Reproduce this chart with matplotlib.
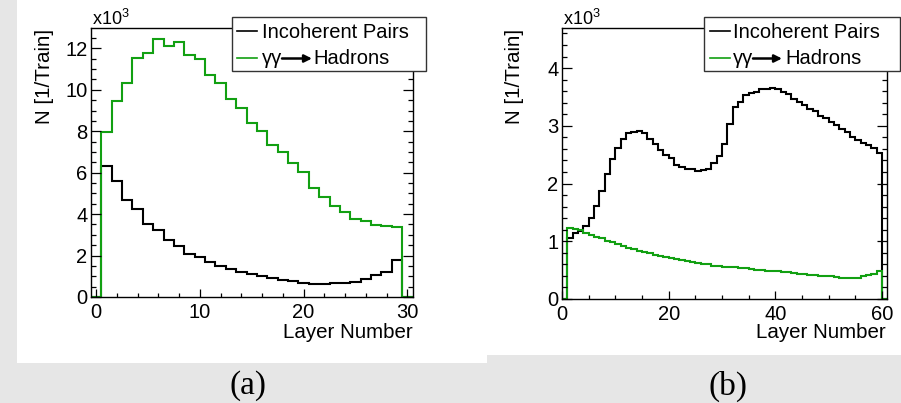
import numpy as np
import matplotlib
matplotlib.use("Agg")
import matplotlib.pyplot as plt
from matplotlib.patches import Rectangle, FancyArrowPatch
from matplotlib.lines import Line2D
from matplotlib.ticker import MultipleLocator

plt.rcParams['font.family'] = ['Liberation Sans', 'DejaVu Sans']
plt.rcParams['mathtext.fontset'] = 'custom'
plt.rcParams['mathtext.rm'] = 'Liberation Sans'
plt.rcParams['mathtext.it'] = 'Liberation Sans:italic'

W, H = 901, 403

# ---- panel (a): hits per layer, 30-layer detector (units of 10^3 / train)
layers_a = np.arange(1, 30)
pairs_a = [6.30, 5.62, 4.69, 4.24, 3.50, 3.21, 2.76, 2.46, 2.09, 1.93,
           1.67, 1.49, 1.35, 1.22, 1.09, 1.00, 0.92, 0.84, 0.77, 0.69,
           0.64, 0.61, 0.66, 0.67, 0.72, 0.87, 1.06, 1.22, 1.80]
hadrons_a = [7.95, 9.45, 10.31, 11.53, 11.76, 12.43, 12.11, 12.29, 11.68, 11.47,
             10.71, 10.35, 9.57, 9.12, 8.40, 8.00, 7.36, 6.99, 6.46, 6.02,
             5.24, 4.82, 4.37, 4.10, 3.78, 3.66, 3.49, 3.41, 3.37]

# ---- panel (b): hits per layer, 60-layer detector (units of 10^3 / train)
layers_b = np.arange(1, 60)
pairs_b = [1.05, 1.14, 1.17, 1.27, 1.41, 1.61, 1.87, 2.16, 2.42, 2.62,
           2.77, 2.87, 2.89, 2.91, 2.88, 2.78, 2.69, 2.58, 2.50, 2.44,
           2.33, 2.29, 2.26, 2.25, 2.22, 2.24, 2.26, 2.36, 2.48, 2.69,
           3.03, 3.32, 3.41, 3.54, 3.57, 3.59, 3.63, 3.64, 3.66, 3.63,
           3.58, 3.55, 3.46, 3.42, 3.36, 3.30, 3.25, 3.17, 3.13, 3.07,
           3.02, 2.95, 2.90, 2.81, 2.76, 2.71, 2.67, 2.61, 2.53]
hadrons_b = [1.23, 1.22, 1.19, 1.15, 1.11, 1.08, 1.05, 1.01, 0.98, 0.95,
             0.92, 0.89, 0.86, 0.83, 0.81, 0.79, 0.77, 0.75, 0.73, 0.71,
             0.69, 0.67, 0.66, 0.64, 0.63, 0.61, 0.60, 0.58, 0.57, 0.56,
             0.56, 0.55, 0.54, 0.53, 0.52, 0.51, 0.50, 0.49, 0.49, 0.48,
             0.47, 0.46, 0.45, 0.44, 0.43, 0.42, 0.41, 0.40, 0.39, 0.39,
             0.38, 0.37, 0.37, 0.36, 0.37, 0.39, 0.41, 0.44, 0.48]

label_pairs = "Incoherent Pairs"
label_hadrons = "Hadrons"
GREEN = "#12a012"
BG = "#e6e6e6"
TICK_FS = 14.5
TITLE_FS = 14.8
LEG_FS = 14.5


def fx(x):
    return x / W


def fy(y):
    return 1 - y / H


fig = plt.figure(figsize=(W / 100, H / 100), dpi=100, facecolor=BG)

# white panel backgrounds
fig.add_artist(Rectangle((fx(17), fy(363)), fx(487) - fx(17), fy(0) - fy(363),
                         transform=fig.transFigure, facecolor="white",
                         edgecolor="none", zorder=-10))
fig.add_artist(Rectangle((fx(487), fy(355)), fx(901) - fx(487), fy(0) - fy(355),
                         transform=fig.transFigure, facecolor="white",
                         edgecolor="none", zorder=-10))


def make_axes(x0, x1, y0, y1):
    return fig.add_axes([fx(x0), fy(y1), fx(x1) - fx(x0), fy(y0) - fy(y1)])


def style_axes(ax, xmaj, xmin, ymaj, ymin):
    ax.xaxis.set_major_locator(MultipleLocator(xmaj))
    ax.xaxis.set_minor_locator(MultipleLocator(xmin))
    ax.yaxis.set_major_locator(MultipleLocator(ymaj))
    ax.yaxis.set_minor_locator(MultipleLocator(ymin))
    ax.tick_params(which="both", direction="in", top=False, right=True,
                   bottom=True, left=True, labelsize=TICK_FS, width=0.9)
    ax.tick_params(axis="y", which="major", length=7.2, pad=2.5)
    ax.tick_params(axis="y", which="minor", length=3.6)
    ax.tick_params(axis="x", which="major", length=6.0, pad=4.5)
    ax.tick_params(axis="x", which="minor", length=3.2)
    for s in ax.spines.values():
        s.set_linewidth(1.0)
    ax.set_facecolor("white")


def hist(ax, layers, values, color, shift):
    edges = np.append(layers - shift, layers[-1] - shift + 1)
    full_edges = np.concatenate([[edges[0] - 1], edges, [edges[-1] + 1]])
    full_vals = np.concatenate([[0.0], values, [0.0]])
    ax.stairs(full_vals, full_edges, baseline=0, color=color, lw=1.5)


def legend(box, lx, tx, gg_end, arr_end, had_x):
    x0, y0, x1, y1 = box
    fig.add_artist(Rectangle((fx(x0), fy(y1)), fx(x1) - fx(x0), fy(y0) - fy(y1),
                             transform=fig.transFigure, facecolor="white",
                             edgecolor="#333333", lw=1.0, zorder=5))
    fig.add_artist(Line2D([fx(lx[0]), fx(lx[1])], [fy(31), fy(31)],
                          transform=fig.transFigure, color="black", lw=1.2, zorder=6))
    fig.add_artist(Line2D([fx(lx[0]), fx(lx[1])], [fy(57.5), fy(57.5)],
                          transform=fig.transFigure, color=GREEN, lw=1.2, zorder=6))
    fig.text(fx(tx), fy(38.5), label_pairs, fontsize=LEG_FS, ha="left",
             va="baseline", zorder=7)
    fig.text(fx(tx), fy(63.5), "\u03b3\u03b3", fontsize=LEG_FS, ha="left",
             va="baseline", zorder=7)
    fig.add_artist(FancyArrowPatch(
        (fx(gg_end), fy(58.5)), (fx(arr_end), fy(58.5)),
        transform=fig.transFigure, arrowstyle="-|>", mutation_scale=11,
        lw=1.8, color="black", shrinkA=0, shrinkB=0, zorder=7))
    fig.text(fx(had_x), fy(63.5), label_hadrons, fontsize=LEG_FS, ha="left",
             va="baseline", zorder=7)


# ---------------- panel (a)
ax_a = make_axes(91, 412.5, 28.3, 297)
hist(ax_a, layers_a, pairs_a, "black", 0.5)
hist(ax_a, layers_a, hadrons_a, GREEN, 0.5)
ax_a.set_xlim(-0.5, 30.5)
ax_a.set_ylim(0, 12.97)
style_axes(ax_a, 10, 2, 2, 0.5)

# ---------------- panel (b)
ax_b = make_axes(562, 886.7, 28.3, 299)
hist(ax_b, layers_b, pairs_b, "black", 0.0)
hist(ax_b, layers_b, hadrons_b, GREEN, 0.0)
ax_b.set_xlim(0, 60.9)
ax_b.set_ylim(0, 4.69)
style_axes(ax_b, 20, 5, 1, 0.2)

# axis titles and exponent labels
for ylab_x, xlab_r, exp_x in [(44.5, 412.5, 92), (515, 886, 563)]:
    fig.text(fx(ylab_x), fy(28.5), "N [1/Train]", rotation=90, fontsize=TITLE_FS,
             ha="center", va="top")
    fig.text(fx(xlab_r), fy(338.5), "Layer Number", fontsize=TITLE_FS,
             ha="right", va="baseline")
    fig.text(fx(exp_x), fy(25), "x10$^{3}$", fontsize=13,
             ha="left", va="baseline")

legend((232, 17, 426, 71), (237, 257), 262, 282, 312, 313)
legend((704, 17, 900, 71), (710, 730), 733, 753, 782, 785)

fig.text(fx(248), fy(386), "(a)", fontsize=24, family="Liberation Serif",
         ha="center", va="center")
fig.text(fx(728), fy(386), "(b)", fontsize=24, family="Liberation Serif",
         ha="center", va="center")

fig.savefig("out.png", dpi=100, facecolor=BG)
